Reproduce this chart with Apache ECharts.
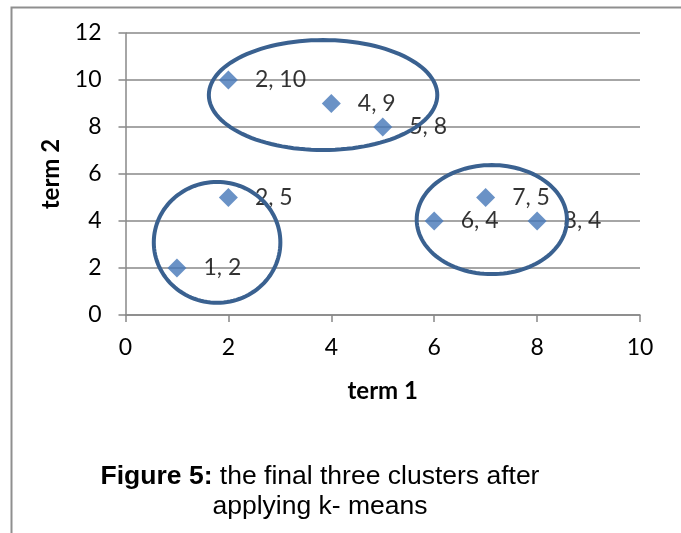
<!DOCTYPE html>
<html>
<head>
<meta charset="utf-8">
<script src="https://cdn.jsdelivr.net/npm/echarts@6/dist/echarts.min.js"></script>
<style>
  html, body { margin: 0; padding: 0; background: #fff; }
  #chart { width: 681px; height: 533px; }
</style>
</head>
<body>
<div id="chart"></div>
<script>
// Documents plotted by their two term weights
const term1 = [1, 2, 2, 4, 5, 6, 7, 8];
const term2 = [2, 5, 10, 9, 8, 4, 5, 4];

// Cluster outlines: centre and radii in axis units
const clusterCx = [3.84, 1.78, 7.12];
const clusterCy = [9.36, 3.09, 4.06];
const clusterRx = [2.22, 1.23, 1.46];
const clusterRy = [2.34, 2.57, 2.32];

const xTicks = { min: 0, max: 10, step: 2 };
const yTicks = { min: 0, max: 12, step: 2 };

const points = term1.map((x, i) => [x, term2[i]]);
const clusters = clusterCx.map((cx, i) => [cx, clusterCy[i], clusterRx[i], clusterRy[i]]);

const tickFont = 'Lato, "Open Sans", sans-serif';
const captionFont = '"Liberation Sans", Arial, sans-serif';
const gridGray = '#888888';

const chart = echarts.init(document.getElementById('chart'), null, { renderer: 'canvas' });

chart.setOption({
  animation: false,
  backgroundColor: '#ffffff',
  grid: { left: 125.5, right: 41, top: 33, bottom: 218 },
  xAxis: {
    type: 'value',
    min: xTicks.min, max: xTicks.max, interval: xTicks.step,
    name: 'term 1',
    nameLocation: 'middle',
    nameGap: 64,
    nameTextStyle: { fontFamily: tickFont, fontWeight: 'bold', fontSize: 24, color: '#000' },
    axisLine: { show: true, lineStyle: { color: gridGray, width: 1.5 } },
    axisTick: { show: true, length: 7, lineStyle: { color: gridGray, width: 1.5 } },
    axisLabel: { fontFamily: tickFont, fontSize: 23, color: '#000', margin: 21 },
    splitLine: { show: false }
  },
  yAxis: {
    type: 'value',
    min: yTicks.min, max: yTicks.max, interval: yTicks.step,
    name: 'term 2',
    nameLocation: 'middle',
    nameGap: 62,
    nameRotate: 90,
    nameTextStyle: { fontFamily: tickFont, fontWeight: 'bold', fontSize: 24, color: '#000' },
    axisLine: { show: true, lineStyle: { color: gridGray, width: 1.5 } },
    axisTick: { show: true, length: 7, lineStyle: { color: gridGray, width: 1.5 } },
    axisLabel: { fontFamily: tickFont, fontSize: 23, color: '#000', margin: 24 },
    splitLine: { show: true, lineStyle: { color: gridGray, width: 1.5 } }
  },
  series: [
    {
      type: 'scatter',
      data: points,
      symbol: 'diamond',
      symbolSize: 19,
      itemStyle: { color: '#4577b8' },
      z: 2,
      label: {
        show: true,
        position: 'right',
        distance: 17,
        fontFamily: tickFont,
        fontSize: 23,
        color: '#000',
        formatter: p => p.value[0] + ', ' + p.value[1]
      }
    },
    {
      type: 'custom',
      data: clusters,
      z: 10,
      silent: true,
      renderItem: function (params, api) {
        const cx = api.value(0), cy = api.value(1);
        const rx = api.value(2), ry = api.value(3);
        const pts = [];
        const n = 120;
        for (let k = 0; k < n; k++) {
          const t = (k / n) * Math.PI * 2;
          pts.push(api.coord([cx + rx * Math.cos(t), cy + ry * Math.sin(t)]));
        }
        return {
          type: 'polygon',
          shape: { points: pts },
          style: { fill: 'none', stroke: '#3a6190', lineWidth: 4 }
        };
      }
    }
  ],
  graphic: [
    // frame around the figure
    {
      type: 'polyline',
      shape: { points: [[11.5, 533], [11.5, 7.5], [681, 7.5]] },
      style: { stroke: '#8f8f8f', lineWidth: 2, fill: null }
    },
    // caption
    {
      type: 'text',
      style: {
        x: 320, y: 477,
        text: '{b|Figure 5:}{r| the final three clusters after}',
        align: 'center',
        verticalAlign: 'middle',
        fontSize: 26.5,
        fontFamily: captionFont,
        fill: '#000',
        rich: {
          b: { fontWeight: 'bold', fontSize: 26.5, fontFamily: captionFont, fill: '#000' },
          r: { fontSize: 26.5, fontFamily: captionFont, fill: '#000' }
        }
      }
    },
    {
      type: 'text',
      style: {
        x: 320, y: 507,
        text: 'applying k- means',
        align: 'center',
        verticalAlign: 'middle',
        fontSize: 26.5,
        fontFamily: captionFont,
        fill: '#000'
      }
    }
  ]
});
</script>
</body>
</html>
